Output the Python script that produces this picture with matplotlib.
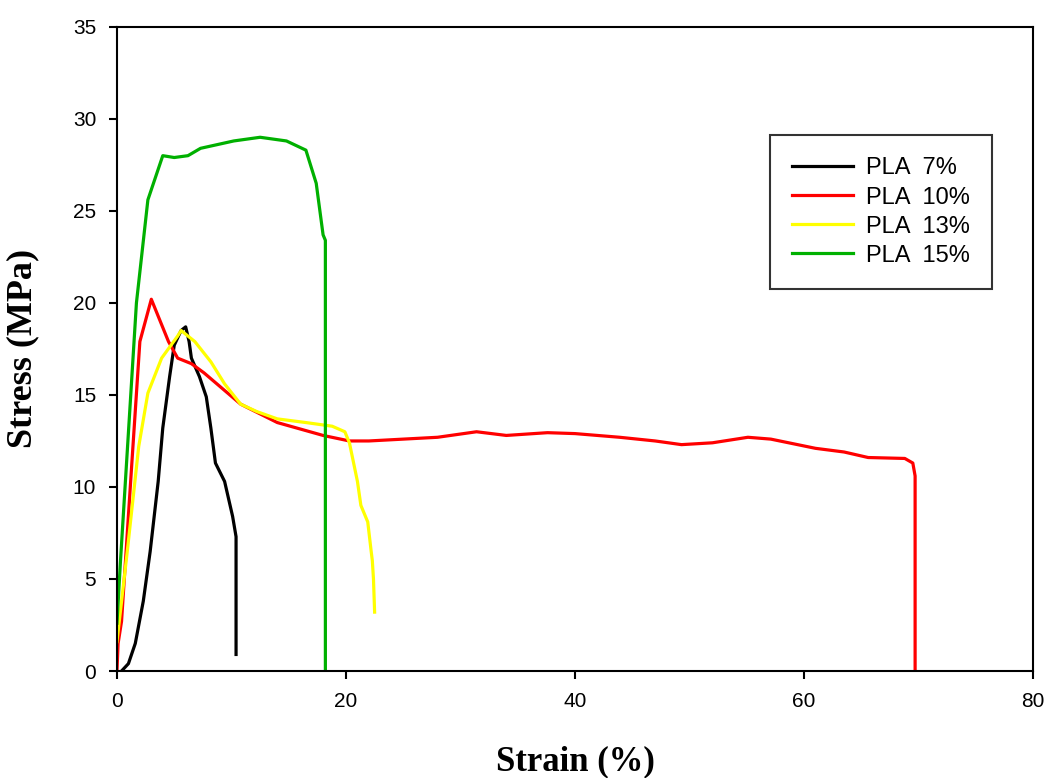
import matplotlib
matplotlib.use("Agg")
import matplotlib.pyplot as plt

# Stress-strain curves
strain_7 = [0.4, 1.0, 1.6, 2.3, 2.9, 3.6, 4.0, 4.6, 5.0, 5.6, 6.0, 6.3, 6.5, 7.2, 7.8, 8.2, 8.6, 9.4, 10.1, 10.4, 10.4]
stress_7 = [0.0, 0.4, 1.5, 3.8, 6.5, 10.3, 13.2, 16.0, 17.7, 18.5, 18.7, 17.9, 17.0, 16.0, 14.9, 13.2, 11.3, 10.3, 8.4, 7.3, 0.9]

strain_10 = [0.0, 0.1, 0.4, 1.3, 2.0, 3.0, 4.5, 5.3, 6.5, 7.6, 10.8, 14.0, 18.0, 20.3, 22.0, 25.0, 28.0,
             31.4, 34.0, 37.6, 40.0, 43.9, 47.0, 49.3, 52.0, 55.1, 57.1, 61.0, 63.5, 65.6, 68.8, 69.5, 69.7, 69.7]
stress_10 = [0.0, 1.5, 2.7, 11.3, 17.9, 20.2, 17.9, 17.0, 16.7, 16.2, 14.5, 13.5, 12.8, 12.5, 12.5, 12.6, 12.7,
             13.0, 12.8, 12.95, 12.9, 12.7, 12.5, 12.3, 12.4, 12.7, 12.6, 12.1, 11.9, 11.6, 11.55, 11.3, 10.6, 0.0]

strain_13 = [0.0, 0.9, 1.9, 2.7, 3.9, 5.3, 5.6, 6.8, 8.2, 9.4, 10.8, 12.2, 14.0, 16.5, 18.8, 19.9, 20.3,
             21.0, 21.3, 21.7, 21.9, 22.2, 22.3, 22.4, 22.5]
stress_13 = [1.6, 6.5, 12.2, 15.1, 17.0, 18.2, 18.5, 17.9, 16.8, 15.6, 14.5, 14.1, 13.7, 13.5, 13.3, 13.0, 12.4,
             10.3, 9.0, 8.4, 8.1, 6.5, 6.0, 5.0, 3.2]

strain_15 = [0.0, 0.3, 1.7, 2.7, 4.0, 5.0, 6.2, 7.3, 10.2, 12.5, 14.8, 16.5, 17.4, 18.0, 18.2, 18.2]
stress_15 = [2.6, 5.9, 20.0, 25.6, 28.0, 27.9, 28.0, 28.4, 28.8, 29.0, 28.8, 28.3, 26.5, 23.7, 23.4, 0.0]

labels = ["PLA  7%", "PLA  10%", "PLA  13%", "PLA  15%"]
colors = ["#000000", "#ff0000", "#ffff00", "#00b000"]

fig = plt.figure(figsize=(10.49, 7.78), dpi=100)
ax = fig.add_axes([0.1115, 0.1375, 0.8733, 0.828])

series = [(strain_7, stress_7), (strain_10, stress_10), (strain_13, stress_13), (strain_15, stress_15)]
for (x, y), lab, c in zip(series, labels, colors):
    ax.plot(x, y, color=c, lw=2.3, label=lab)

ax.set_xlim(0, 80)
ax.set_ylim(0, 35)
ax.set_xticks([0, 20, 40, 60, 80])
ax.set_yticks([0, 5, 10, 15, 20, 25, 30, 35])
ax.tick_params(direction="out", length=6, width=1.5, labelsize=15, pad=9)
for lbl in ax.get_xticklabels() + ax.get_yticklabels():
    lbl.set_fontfamily("Liberation Sans")
for s in ax.spines.values():
    s.set_linewidth(1.5)

ax.set_xlabel("Strain (%)", fontfamily="Liberation Serif", fontweight="bold", fontsize=25)
ax.set_ylabel("Stress (MPa)", fontfamily="Liberation Serif", fontweight="bold", fontsize=26)
ax.xaxis.set_label_coords(0.5, -0.115)
ax.yaxis.set_label_coords(-0.085, 0.5)

leg = ax.legend(loc="upper right", bbox_to_anchor=(0.955, 0.832), frameon=True, fancybox=False,
                edgecolor="black", prop={"family": "Liberation Sans", "size": 17},
                handlelength=2.55, handletextpad=0.55, borderpad=0.95, labelspacing=0.3,
                borderaxespad=0)
leg.get_frame().set_linewidth(1.5)

fig.savefig("out.png", dpi=100)
